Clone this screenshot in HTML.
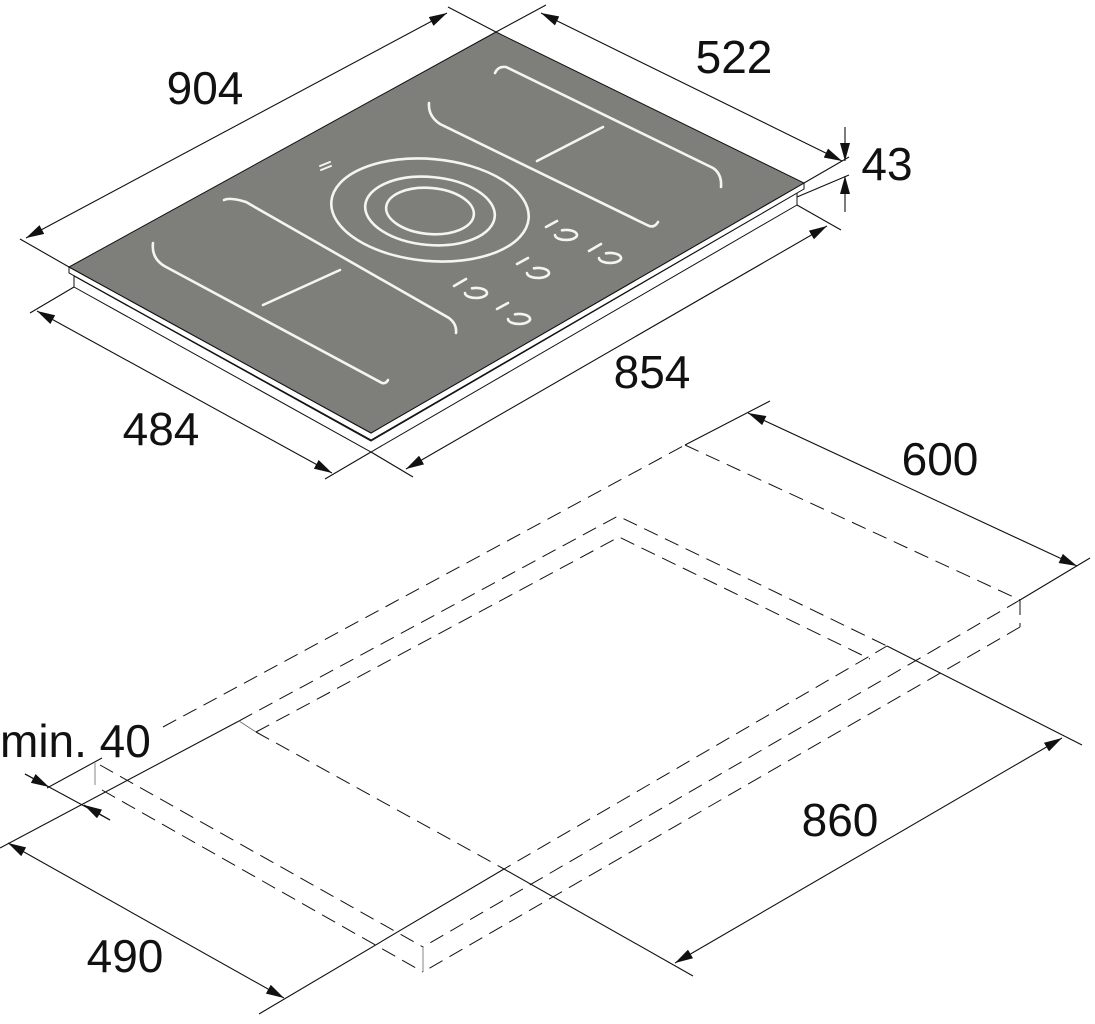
<!DOCTYPE html>
<html><head><meta charset="utf-8"><style>
html,body{margin:0;padding:0;background:#fff;}
svg{display:block;}
text{font-family:"Liberation Sans",Arial,sans-serif;font-size:46px;fill:#111;}
</style></head><body>
<svg width="1095" height="1024" viewBox="0 0 1095 1024" xmlns="http://www.w3.org/2000/svg">
<defs>
<marker id="a" viewBox="0 0 18 10" refX="18" refY="5" markerWidth="18" markerHeight="10" markerUnits="userSpaceOnUse" orient="auto-start-reverse">
<path d="M0,0 L18,5 L0,10 Z" fill="#111"/>
</marker>
</defs>

<!-- HOB -->
<polygon points="74,276 371,441 797,193 797,205 371,452 74,287" fill="#fff" stroke="#111" stroke-width="1"/>
<polygon points="69,267 69,273 371,440 804,189 804,183 371,433" fill="#fff" stroke="#111" stroke-width="1"/>
<polygon points="496,32 804,183 371,433 69,267" fill="#7e7e7a" stroke="#111" stroke-width="1"/>

<g fill="none" stroke="#f4f4f0" stroke-width="2.6" stroke-linecap="round">
  <path d="M495,73 Q498,66 506,67 L713,168 Q722,174 721,187"/>
  <path d="M429,103 Q428,116 440,124 L647,225 Q654,229 658,222"/>
  <path d="M537,161 L603,127"/>
  <path d="M224,200 Q230,197 246,202 L449,318 Q457,324 456,333"/>
  <path d="M153,243 Q151,260 168,268 L382,383 Q386,384 388,380"/>
  <path d="M263,305 L340,270"/>
  <ellipse cx="430" cy="210" rx="99" ry="51" transform="rotate(5 430 210)"/>
  <ellipse cx="430" cy="211" rx="65" ry="34" transform="rotate(5 430 211)"/>
  <ellipse cx="430" cy="211" rx="44" ry="23" transform="rotate(5 430 211)"/>
  <path d="M546,227 L557,221"/><path d="M555,235 A11 5 0 1 0 562,230.3"/>
  <path d="M589,251 L601,244"/><path d="M599,258 A11 5 0 1 0 606,253.3"/>
  <path d="M517,264 L528,258"/><path d="M527,273 A11 5 0 1 0 534,268.3"/>
  <path d="M454,286 L466,279"/><path d="M465,293 A11 5 0 1 0 472,288.3"/>
  <path d="M497,309 L508,303"/><path d="M508,319 A11 5 0 1 0 515,314.3"/>
</g>
<g stroke="#f4f4f0" stroke-width="2" stroke-linecap="round">
  <path d="M320,166 L330,162"/><path d="M321,170 L331,166"/>
</g>

<g stroke="#111" stroke-width="1.1" fill="none">
  <line x1="69" y1="267" x2="20" y2="239"/>
  <line x1="496" y1="32" x2="448" y2="7"/>
  <line x1="26" y1="238" x2="447" y2="13" marker-start="url(#a)" marker-end="url(#a)"/>
  <line x1="496" y1="32" x2="546" y2="5"/>
  <line x1="804" y1="183" x2="849" y2="157"/>
  <line x1="797" y1="197" x2="849" y2="175"/>
  <line x1="541" y1="13" x2="842" y2="161" marker-start="url(#a)" marker-end="url(#a)"/>
  <line x1="845" y1="127" x2="845" y2="161" marker-end="url(#a)"/>
  <line x1="845" y1="212" x2="845" y2="176" marker-end="url(#a)"/>
  <line x1="797" y1="205" x2="841" y2="230"/>
  <line x1="371" y1="452" x2="413" y2="477"/>
  <line x1="827" y1="226" x2="406" y2="469" marker-start="url(#a)" marker-end="url(#a)"/>
  <line x1="74" y1="287" x2="30" y2="313"/>
  <line x1="371" y1="452" x2="325" y2="479"/>
  <line x1="37" y1="311" x2="332" y2="473" marker-start="url(#a)" marker-end="url(#a)"/>

  <line x1="685" y1="445" x2="770" y2="401"/>
  <line x1="1020" y1="600" x2="1090" y2="558"/>
  <line x1="748" y1="413" x2="1077" y2="566" marker-start="url(#a)" marker-end="url(#a)"/>
  <line x1="887" y1="646" x2="1082" y2="745"/>
  <line x1="504" y1="869" x2="693" y2="976"/>
  <line x1="1062" y1="738" x2="675" y2="963" marker-start="url(#a)" marker-end="url(#a)"/>
  <line x1="239" y1="721" x2="0" y2="848"/>
  <line x1="504" y1="869" x2="259" y2="1014"/>
  <line x1="8" y1="843" x2="284" y2="998" marker-start="url(#a)" marker-end="url(#a)"/>
  <line x1="47" y1="788" x2="102" y2="758"/>
  <line x1="25" y1="774" x2="110" y2="820"/>
  <line x1="25" y1="774" x2="49" y2="787" marker-end="url(#a)"/>
  <line x1="110" y1="820" x2="84" y2="805" marker-end="url(#a)"/>
</g>

<g stroke="#111" stroke-width="1" fill="none" stroke-dasharray="15 8">
  <line x1="163" y1="727" x2="685" y2="445"/>
  <line x1="685" y1="445" x2="1020" y2="600"/>
  <line x1="1020" y1="600" x2="1020" y2="627"/>
  <line x1="1020" y1="600" x2="423" y2="947"/>
  <line x1="1020" y1="627" x2="423" y2="972"/>
  <line x1="100" y1="765" x2="423" y2="947"/>
  <line x1="102" y1="790" x2="423" y2="972"/>
  <polyline points="239,721 618,516 887,646"/>
  <polyline points="256,732 619,537 870,659"/>
  <polyline points="256,732 504,869 887,646"/>
</g>
<g stroke="#666" stroke-width="0.8">
  <line x1="95" y1="763" x2="95" y2="785"/>
  <line x1="423" y1="947" x2="423" y2="972"/>
  <line x1="239" y1="721" x2="256" y2="732"/>
</g>

<text x="205" y="104" text-anchor="middle">904</text>
<text x="734" y="73" text-anchor="middle">522</text>
<text x="887" y="180" text-anchor="middle">43</text>
<text x="652" y="388" text-anchor="middle">854</text>
<text x="161" y="445" text-anchor="middle">484</text>
<text x="940" y="475" text-anchor="middle">600</text>
<text x="840" y="836" text-anchor="middle">860</text>
<text x="125" y="972" text-anchor="middle">490</text>
<text x="0" y="757">min. 40</text>
</svg>
</body></html>
